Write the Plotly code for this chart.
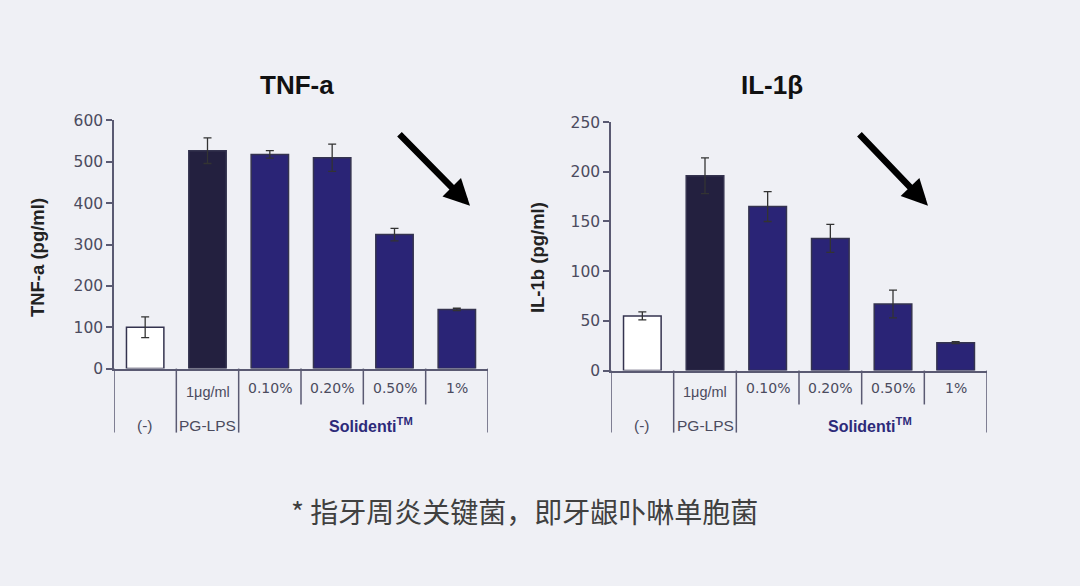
import plotly.graph_objects as go

# ---------------- data ----------------
categories = ["(-)", "PG-LPS 1μg/ml", "Solidenti 0.10%", "Solidenti 0.20%", "Solidenti 0.50%", "Solidenti 1%"]
row1_labels = ["", "1μg/ml", "0.10%", "0.20%", "0.50%", "1%"]
row2_labels = ["(-)", "PG-LPS"]
group_label = "Solidenti<sup>TM</sup>"

tnf_values = [100, 527, 518, 510, 324, 143]
tnf_errors = [25, 31, 9, 33, 15, 3]

il1b_values = [55, 196, 165, 133, 67, 28]
il1b_errors = [4, 18, 15, 14, 14, 1]

titles = ["TNF-a", "IL-1β"]
ytitles = ["TNF-a (pg/ml)", "IL-1b (pg/ml)"]
yranges = [[0, 600], [0, 250]]
ydticks = [100, 50]
footnote = "* 指牙周炎关键菌，即牙龈卟啉单胞菌"

# ---------------- style ----------------
BG = "#eff0f5"
AXIS = "#5a5a72"
TICK = "#4b4b5e"
FILL = ["#ffffff", "#23203f", "#2a2476", "#2a2476", "#2a2476", "#2a2476"]
EDGE = "#34334f"

W, H = 1080, 586
panels = [
    dict(xd=[114 / W, 488 / W], yd=[1 - 371 / H, 1 - 115 / H], vals=tnf_values, errs=tnf_errors,
         title_x=297 / W, ytitle_x=37 / W, ytitle_y=257, arrow_tip=(470, 203), arrow_off=(-72, -73)),
    dict(xd=[611 / W, 987 / W], yd=[1 - 373 / H, 1 - 116.7 / H], vals=il1b_values, errs=il1b_errors,
         title_x=772 / W, ytitle_x=537 / W, ytitle_y=257, arrow_tip=(928, 203), arrow_off=(-70, -73)),
]

fig = go.Figure()
annotations = []
shapes = []

for i, p in enumerate(panels):
    xa = "x" if i == 0 else "x2"
    ya = "y" if i == 0 else "y2"
    xkey = "xaxis" if i == 0 else "xaxis2"
    ykey = "yaxis" if i == 0 else "yaxis2"

    fig.add_trace(go.Bar(
        x=list(range(len(categories))), y=p["vals"],
        width=0.6,
        marker=dict(color=FILL, line=dict(color=EDGE, width=1.5)),
        error_y=dict(type="data", array=p["errs"], visible=True, color="#333333", thickness=1.3, width=4),
        xaxis=xa, yaxis=ya, showlegend=False,
        hovertext=categories,
    ))

    fig.update_layout(**{
        xkey: dict(domain=p["xd"], range=[-0.5, len(categories) - 0.5], anchor=ya,
                   showticklabels=False, ticks="", showgrid=False, zeroline=False,
                   showline=True, linecolor=AXIS, linewidth=1.5, fixedrange=True),
        ykey: dict(domain=p["yd"], range=yranges[i], dtick=ydticks[i], anchor=xa,
                   showgrid=False, zeroline=False, showline=True, linecolor=AXIS, linewidth=1.5,
                   ticks="outside", ticklen=6, tickwidth=1.5, tickcolor=AXIS,
                   tickfont=dict(family="DejaVu Sans", size=15.5, color=TICK)),
    })

    # table dividers below the x axis
    ybase = p["yd"][0]
    long_bottom = 1 - 437 / H
    short_bottom = 1 - 408 / H
    n = len(categories)
    for k in range(n + 1):
        xpos = k - 0.5
        long_line = k in (0, 1, 2, n)
        shapes.append(dict(type="line", xref=xa, yref="paper", x0=xpos, x1=xpos,
                           y0=ybase, y1=long_bottom if long_line else short_bottom,
                           line=dict(color=AXIS, width=1.5)))

    # row 1 labels
    for k, lab in enumerate(row1_labels):
        if not lab:
            continue
        is_pct = k >= 2
        annotations.append(dict(xref=xa, yref="paper", x=k, y=1 - (391 if is_pct else 395) / H,
                                text=lab, showarrow=False, xanchor="center", yanchor="middle",
                                font=dict(family="DejaVu Sans" if is_pct else "Liberation Sans",
                                          size=14 if is_pct else 14.5, color=TICK)))
    # row 2 labels
    for k, lab in enumerate(row2_labels):
        annotations.append(dict(xref=xa, yref="paper", x=k, y=1 - 430 / H, text=lab, showarrow=False,
                                xanchor="center", yanchor="middle",
                                font=dict(family="Liberation Sans", size=15.5, color=TICK)))
    annotations.append(dict(xref=xa, yref="paper", x=3.63, y=1 - 429 / H, text="<b>Solidenti</b><sup><b>TM</b></sup>",
                            showarrow=False, xanchor="center", yanchor="middle",
                            font=dict(family="Liberation Sans", size=16, color="#2d2a7a")))

    # titles
    annotations.append(dict(xref="paper", yref="paper", x=p["title_x"], y=1 - 78 / H, text=f"<b>{titles[i]}</b>",
                            showarrow=False, xanchor="center", yanchor="middle",
                            font=dict(family="Liberation Sans", size=26, color="#111111")))
    annotations.append(dict(xref="paper", yref="paper", x=p["ytitle_x"], y=1 - p["ytitle_y"] / H,
                            text=f"<b>{ytitles[i]}</b>",
                            showarrow=False, textangle=-90, xanchor="center", yanchor="middle",
                            font=dict(family="Liberation Sans", size=18.5, color="#222222")))

    # trend arrow
    tx, ty = p["arrow_tip"]
    ox, oy = p["arrow_off"]
    annotations.append(dict(xref="paper", yref="paper", x=tx / W, y=1 - ty / H, ax=ox, ay=oy,
                            axref="pixel", ayref="pixel", text="", showarrow=True,
                            arrowhead=2, arrowsize=0.8, arrowwidth=6.5, arrowcolor="#000000"))

annotations.append(dict(xref="paper", yref="paper", x=524 / W, y=1 - 518 / H, text=footnote, showarrow=False,
                        xanchor="center", yanchor="middle",
                        font=dict(family="Noto Sans CJK SC", size=28, color="#404040")))

fig.update_layout(
    width=W, height=H, margin=dict(l=0, r=0, t=0, b=0),
    paper_bgcolor=BG, plot_bgcolor=BG,
    annotations=annotations, shapes=shapes, bargap=0.4,
)

post = (
    "document.documentElement.style.margin='0';document.body.style.margin='0';"
    "document.body.style.padding='0';document.body.style.background='" + BG + "';"
    "var gd=document.getElementById('{plot_id}');"
    "Plotly.relayout(gd,{width:%d,height:%d});" % (W, H)
)

fig.write_html("out.html", config={"displayModeBar": False, "responsive": False},
               default_width=f"{W}px", default_height=f"{H}px", post_script=post)
